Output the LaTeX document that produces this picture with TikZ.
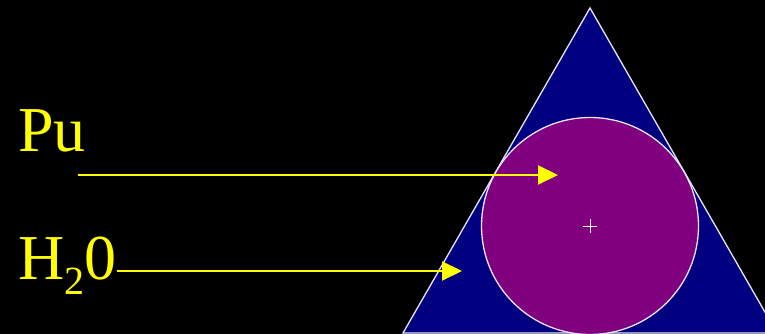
\documentclass[tikz,border=0pt]{standalone}
\usepackage{fontspec}
\setmainfont{Liberation Serif}
\usetikzlibrary{arrows.meta}
\definecolor{navyblue}{RGB}{0,0,128}
\definecolor{plum}{RGB}{128,0,128}
\definecolor{yel}{RGB}{255,255,0}
\tikzset{
  label text/.style={text=yel, inner sep=0pt, anchor=base west, font=\fontsize{64}{64}\selectfont},
  pointer/.style={draw=yel, line width=2pt, -{Triangle[length=20pt,width=19pt]}},
  outline/.style={draw=white!90!blue, line width=1.3pt}
}
\begin{document}
\begin{tikzpicture}[x=1pt,y=-1pt]
\useasboundingbox (0,0) rectangle (765,334);
\fill[black] (0,0) rectangle (765,334);
\begin{scope}
\clip (0,0) rectangle (765,334);
\draw[outline, fill=navyblue] (590,8) -- (403,333) -- (777,333) -- cycle;
\node[circle, outline, fill=plum, minimum size=217pt, inner sep=0pt] (core) at (590,226) {};
\end{scope}
\draw[white, line width=1pt] (583,226) -- (597,226) (590,219) -- (590,233);
\node[label text] (pu) at (18,151) {Pu};
\node[label text] (h2o) at (18,279) {H\raisebox{-15pt}{\fontsize{40}{40}\selectfont 2}0};
\coordinate (pustart) at (78,175);
\coordinate (puend) at (558,175);
\coordinate (hend) at (462,271);
\draw[pointer] (pustart) -- (puend);
\draw[pointer] (h2o.east |- hend) -- (hend);
\end{tikzpicture}
\end{document}
